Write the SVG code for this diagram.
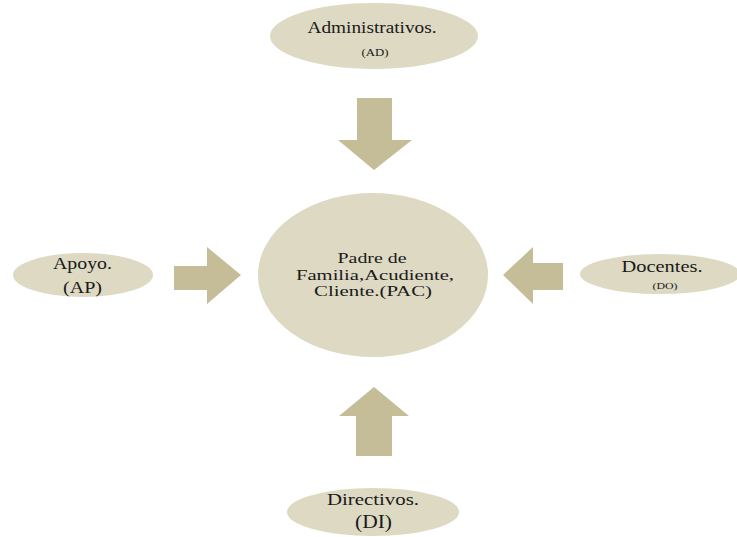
<svg xmlns="http://www.w3.org/2000/svg" width="737" height="537" viewBox="0 0 737 537">
<style>
.node{fill:#DDD9C3;stroke:#ffffff;stroke-width:2}
.arr{fill:#C4BD97}
text{font-family:"Liberation Serif","Times New Roman",serif;fill:#1a1a1a;text-anchor:middle}
</style>
<rect width="737" height="537" fill="#ffffff"/>
<g id="connectors">
<polygon class="arr" points="357,98 392,98 392,140 412,140 374,170 338,140 357,140"/>
<polygon class="arr" points="174,266 207,266 207,247 241,275 207,304 207,290 174,290"/>
<polygon class="arr" points="563,263 533,263 533,247 503,275 533,304 533,290 563,290"/>
<polygon class="arr" points="356,456 392,456 392,416 409,416 374,387 339,416 356,416"/>
</g>
<g id="admin">
<ellipse class="node" cx="374" cy="36" rx="105" ry="34"/>
<text x="372" y="33" font-size="16" textLength="129" lengthAdjust="spacingAndGlyphs">Administrativos.</text>
<text x="375" y="56" font-size="11" textLength="27" lengthAdjust="spacingAndGlyphs">(AD)</text>
</g>
<g id="pac">
<ellipse class="node" cx="373" cy="275" rx="116" ry="83"/>
<text x="372" y="263" font-size="14.5" textLength="69" lengthAdjust="spacingAndGlyphs">Padre de</text>
<text x="375" y="279.5" font-size="14.5" textLength="158" lengthAdjust="spacingAndGlyphs">Familia,Acudiente,</text>
<text x="373" y="296" font-size="14.5" textLength="118" lengthAdjust="spacingAndGlyphs">Cliente.(PAC)</text>
</g>
<g id="apoyo">
<ellipse class="node" cx="83" cy="275" rx="71" ry="23"/>
<text x="82.5" y="269" font-size="16" textLength="59" lengthAdjust="spacingAndGlyphs">Apoyo.</text>
<text x="82.5" y="293" font-size="17" textLength="39" lengthAdjust="spacingAndGlyphs">(AP)</text>
</g>
<g id="docentes">
<ellipse class="node" cx="660" cy="274" rx="81" ry="21"/>
<text x="662" y="272" font-size="17" textLength="81" lengthAdjust="spacingAndGlyphs">Docentes.</text>
<text x="665" y="289" font-size="9" textLength="25" lengthAdjust="spacingAndGlyphs">(DO)</text>
</g>
<g id="directivos">
<ellipse class="node" cx="373" cy="512" rx="87" ry="25"/>
<text x="373" y="505" font-size="16" textLength="92" lengthAdjust="spacingAndGlyphs">Directivos.</text>
<text x="373.5" y="528" font-size="18" textLength="37" lengthAdjust="spacingAndGlyphs">(DI)</text>
</g>
</svg>
